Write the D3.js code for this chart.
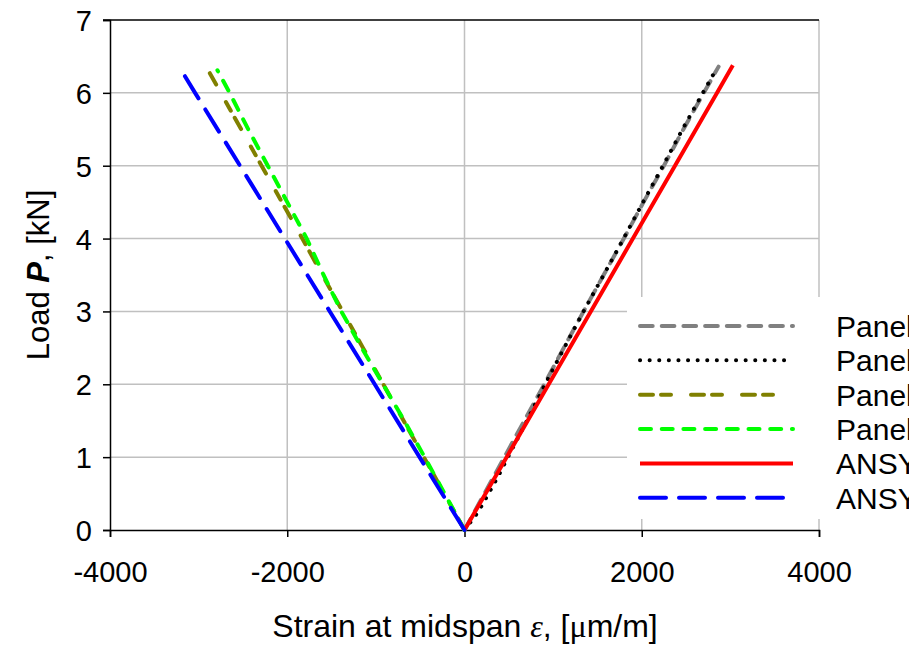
<!DOCTYPE html>
<html><head><meta charset="utf-8">
<script src="https://cdn.jsdelivr.net/npm/d3@7"></script>
<style>
body{margin:0;background:#fff;}
svg{display:block;font-family:"Liberation Sans",Arial,sans-serif;}
</style></head>
<body><svg id="c" width="909" height="648"></svg>
<script>
// ---- data (strain in µm/m, load in kN) ----
const seriesNames = ["Panel 1", "Panel 2", "Panel 3", "Panel 4", "ANSYS 1", "ANSYS 2"];
const panel1Load   = [0, 0.5, 1, 1.5, 2, 2.5, 3, 3.5, 4, 4.5, 5, 5.5, 6, 6.36];
const panel1Strain = [0, 225, 450, 675, 900, 1120, 1343, 1570, 1798, 2020, 2250, 2470, 2700, 2867];
const panel2Load   = [0, 0.25, 0.5, 0.75, 1, 1.5, 2, 2.5, 3, 3.5, 4, 4.5, 5, 5.5, 6, 6.3];
const panel2Strain = [0, 155, 272, 385, 490, 705, 910, 1125, 1343, 1570, 1795, 2015, 2240, 2460, 2690, 2830];
const panel3Load   = [0, 0.5, 1, 1.5, 2, 2.5, 3, 3.5, 4, 4.5, 5, 5.5, 6, 6.36];
const panel3Strain = [0, -229, -458, -687, -916, -1145, -1375, -1603, -1830, -2060, -2290, -2520, -2750, -2915];
const panel4Load   = [0, 0.5, 1, 1.5, 2, 2.5, 3, 3.5, 4, 4.5, 5, 5.5, 6, 6.31];
const panel4Strain = [0, -225, -450, -680, -920, -1160, -1390, -1590, -1780, -2000, -2220, -2440, -2650, -2788];
const ansys1Load   = [0, 1, 2, 3, 4, 5, 6, 6.38];
const ansys1Strain = [0, 475, 950, 1425, 1900, 2375, 2850, 3028];
const ansys2Load   = [0, 1, 2, 3, 4, 5, 6, 6.25];
const ansys2Strain = [0, -507, -1013, -1520, -2027, -2533, -3040, -3165];
const xTicks = [-4000, -2000, 0, 2000, 4000];
const yTicks = [0, 1, 2, 3, 4, 5, 6, 7];

const loads = [panel1Load, panel2Load, panel3Load, panel4Load, ansys1Load, ansys2Load];
const strains = [panel1Strain, panel2Strain, panel3Strain, panel4Strain, ansys1Strain, ansys2Strain];
const styles = [
  {color:"#808080", dash:"12.7 9", cap:"round"},
  {color:"#000000", dash:"0.1 9.5", cap:"round"},
  {color:"#808000", dash:"13 8 10 20", cap:"round"},
  {color:"#00ff00", dash:"11 10.7", cap:"round"},
  {color:"#ff0000", dash:null, cap:"butt"},
  {color:"#0000ff", dash:"26 13", cap:"round"}
];

const svg = d3.select("#c");
const x = d3.scaleLinear().domain([-4000, 4000]).range([110, 819]);
const y = d3.scaleLinear().domain([0, 7]).range([530, 20]);

// gridlines
svg.append("g").selectAll("line").data(yTicks.filter(d => d > 0 && d < 7)).join("line")
  .attr("x1", x(-4000)).attr("x2", x(4000)).attr("y1", d => y(d)).attr("y2", d => y(d))
  .attr("stroke", "#c0c0c0").attr("stroke-width", 1.5);
svg.append("g").selectAll("line").data(xTicks.filter(d => d > -4000)).join("line")
  .attr("x1", d => x(d)).attr("x2", d => x(d)).attr("y1", y(0)).attr("y2", y(7))
  .attr("stroke", "#c0c0c0").attr("stroke-width", 1.5);
// top line
svg.append("line").attr("x1", x(-4000) - 7).attr("x2", x(4000)).attr("y1", y(7)).attr("y2", y(7))
  .attr("stroke", "#000").attr("stroke-width", 1.5);

// axes
const fmt = d => String(d);
const xAxis = svg.append("g").attr("transform", `translate(0,${y(0)})`)
  .call(d3.axisBottom(x).tickValues(xTicks).tickSize(7).tickFormat(fmt));
const yAxis = svg.append("g").attr("transform", `translate(${x(-4000)},0)`)
  .call(d3.axisLeft(y).tickValues(yTicks).tickSize(7).tickFormat(fmt));
[xAxis, yAxis].forEach(a => {
  a.select(".domain").attr("stroke", "#000").attr("stroke-width", 1.5);
  a.selectAll(".tick line").attr("stroke", "#000").attr("stroke-width", 1.5);
  a.selectAll(".tick text").attr("fill", "#000").attr("font-size", 29)
    .attr("font-family", "Liberation Sans, Arial, sans-serif");
});
xAxis.selectAll(".tick text").attr("dy", null).attr("y", 52);
yAxis.selectAll(".tick text").attr("x", -18).attr("dy", "0.36em");

// series lines
const line = d3.line().x(d => x(d[0])).y(d => y(d[1]));
strains.forEach((s, i) => {
  const pts = s.map((v, j) => [v, loads[i][j]]);
  const p = svg.append("path").datum(pts).attr("d", line)
    .attr("fill", "none").attr("stroke", styles[i].color).attr("stroke-width", 4)
    .attr("stroke-linecap", styles[i].cap).attr("stroke-linejoin", "round");
  if (styles[i].dash) p.attr("stroke-dasharray", styles[i].dash);
});

// legend
const lg = svg.append("g");
lg.append("rect").attr("x", 627).attr("y", 297).attr("width", 300).attr("height", 222).attr("fill", "#fff");
seriesNames.forEach((n, i) => {
  const yy = 326 + i * 34.35;
  const l = lg.append("line").attr("x1", 640).attr("x2", 793).attr("y1", yy).attr("y2", yy)
    .attr("stroke", styles[i].color).attr("stroke-width", 4).attr("stroke-linecap", styles[i].cap);
  if (styles[i].dash) l.attr("stroke-dasharray", styles[i].dash);
  lg.append("text").attr("x", 836).attr("y", yy).attr("dy", "0.36em").attr("font-size", 30).text(n);
});

// axis titles
const xt = svg.append("text").attr("x", 465).attr("y", 637).attr("text-anchor", "middle").attr("font-size", 32);
xt.append("tspan").text("Strain at midspan ");
xt.append("tspan").attr("font-family", "Liberation Serif, serif").attr("font-style", "italic").text("ε");
xt.append("tspan").text(", [");
xt.append("tspan").attr("font-family", "Liberation Serif, serif").text("μ");
xt.append("tspan").text("m/m]");

const yt = svg.append("text").attr("transform", "translate(49,275) rotate(-90)").attr("text-anchor", "middle").attr("font-size", 31);
yt.append("tspan").text("Load ");
yt.append("tspan").attr("font-weight", "bold").attr("font-style", "italic").text("P");
yt.append("tspan").text(", [kN]");
</script></body></html>
